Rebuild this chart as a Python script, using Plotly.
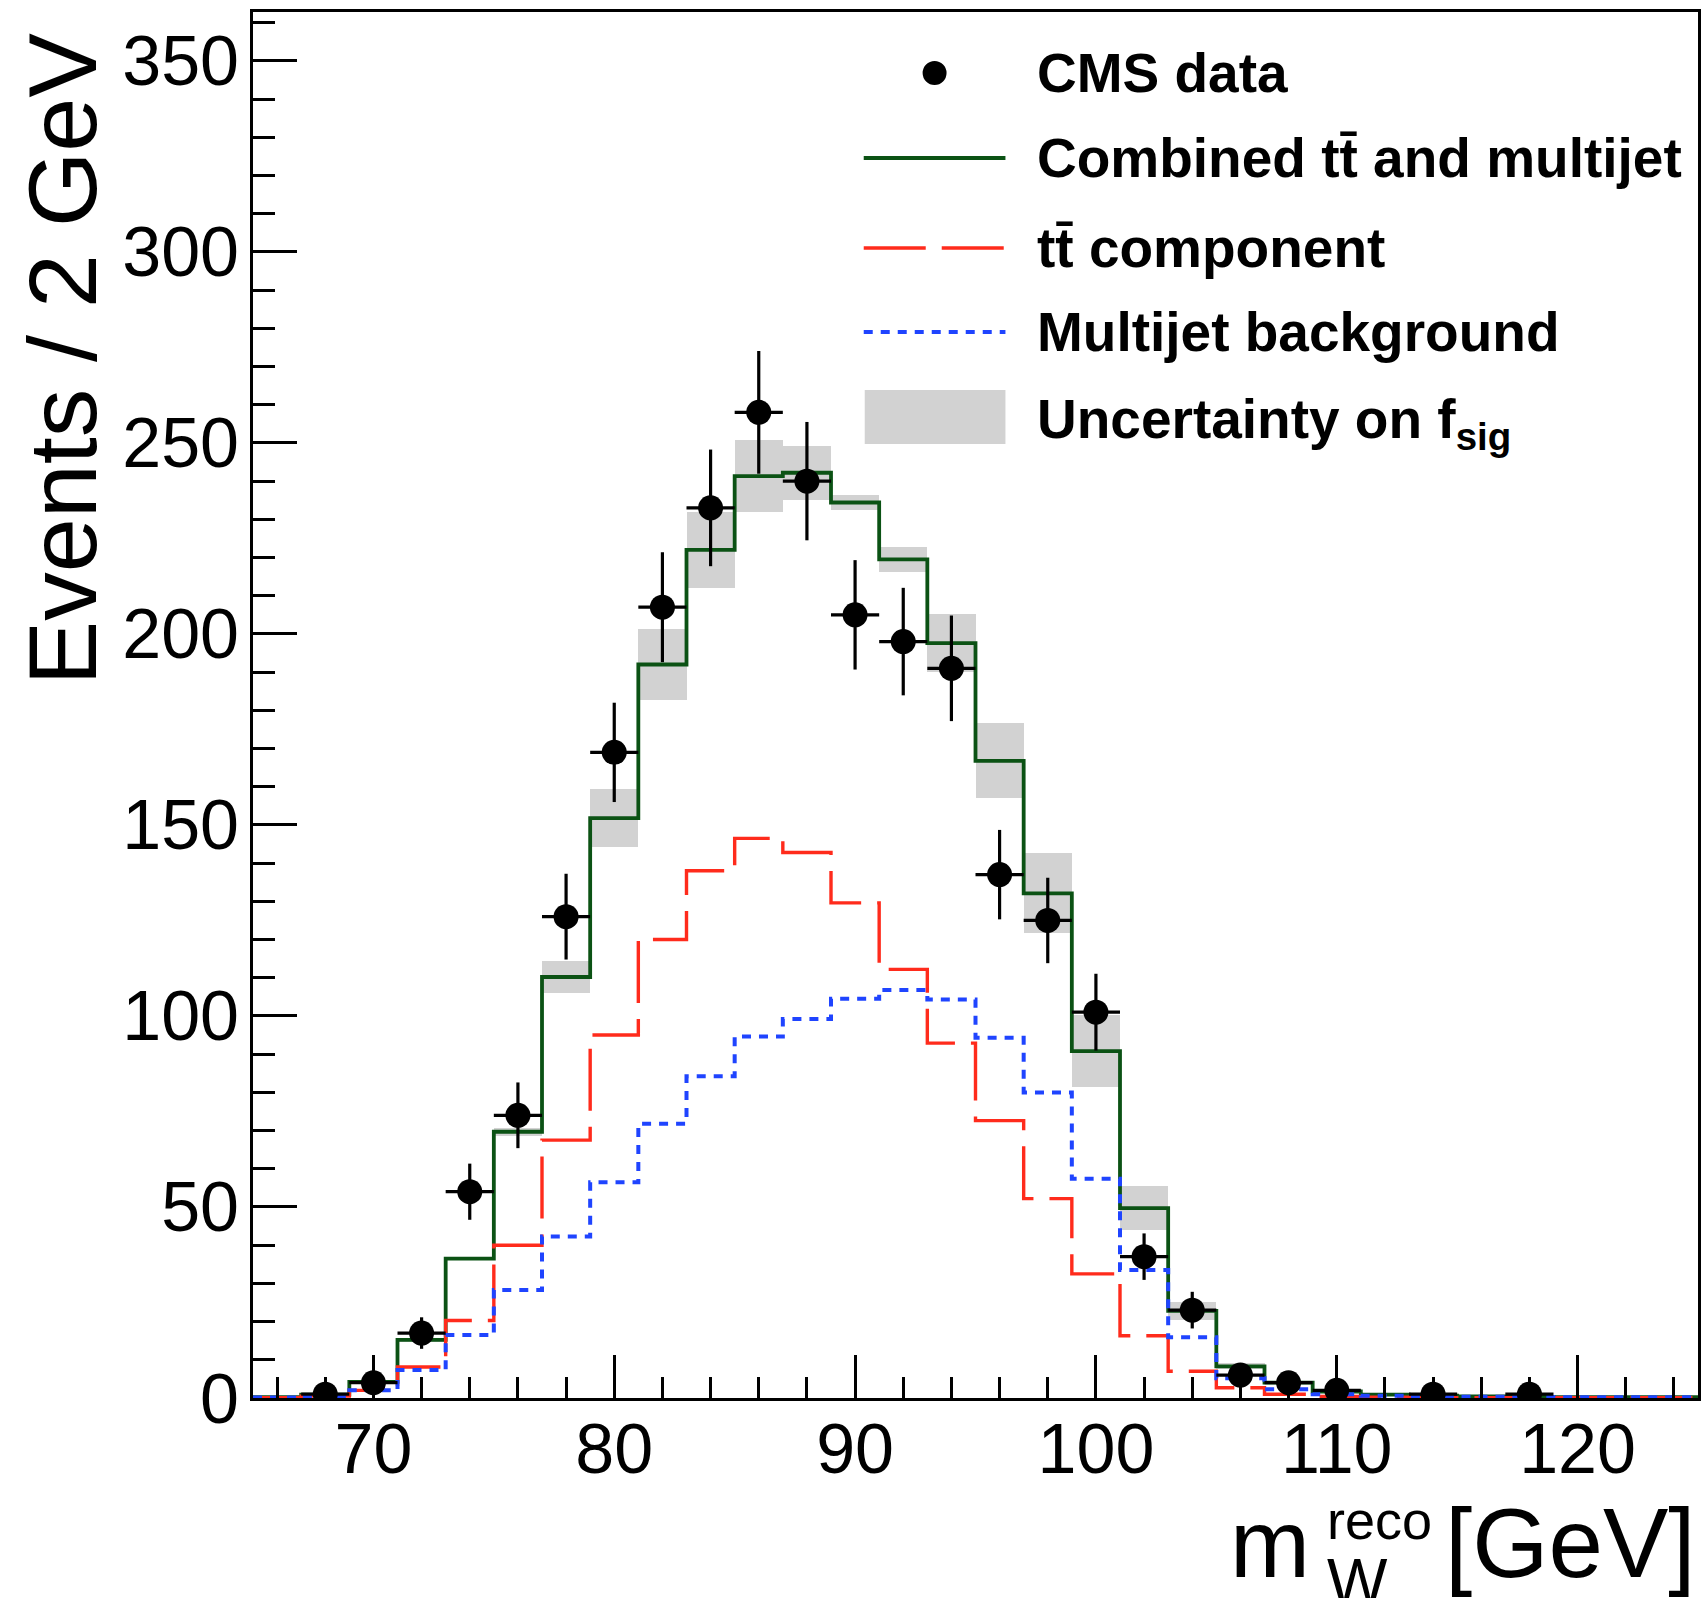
import numpy as np
import plotly.graph_objects as go

# Reconstructed W mass, 2 GeV bins from 65 to 125 GeV (bin centres)
mass_bins = [66, 68, 70, 72, 74, 76, 78, 80, 82, 84, 86, 88, 90, 92, 94,
             96, 98, 100, 102, 104, 106, 108, 110, 112, 114, 116, 118, 120, 122, 124]

# Fitted model: combined ttbar + multijet, and its two components
combined = [0.2, 0.9, 4.2, 15.2, 36.5, 69.7, 110.2, 151.8, 192.0, 222.0, 241.3, 242.2,
            234.4, 219.5, 197.6, 166.8, 132.1, 90.8, 49.7, 22.8, 8.3, 4.0, 1.7, 0.9,
            0.6, 0.4, 0.3, 0.25, 0.2, 0.2]
ttbar = [0.1, 0.5, 2.0, 8.1, 20.3, 40.0, 67.5, 95.0, 120.0, 138.0, 146.5, 142.8,
         129.6, 112.2, 92.9, 72.6, 52.2, 32.5, 16.3, 7.0, 2.7, 1.0, 0.4, 0.2,
         0.1, 0.1, 0.1, 0.1, 0.1, 0.1]
multijet = [0.1, 0.4, 2.0, 7.3, 16.5, 28.3, 42.3, 56.5, 71.8, 84.2, 94.6, 99.2,
            104.5, 106.8, 104.3, 94.3, 80.0, 57.4, 33.5, 15.9, 5.2, 2.3, 1.0, 0.6,
            0.4, 0.3, 0.25, 0.2, 0.2, 0.2]
# Half-width of the band from the uncertainty on the signal fraction
fsig_unc = [0.0, 0.0, 0.3, 0.5, 0.5, 1.0, 4.3, 7.5, 9.4, 10.0, 9.4, 7.1,
            2.0, 3.3, 7.5, 9.8, 10.5, 9.4, 5.7, 2.3, 0.8, 0.3, 0.0, 0.0,
            0.0, 0.0, 0.0, 0.0, 0.0, 0.0]

# CMS data (non-empty bins only)
data_mass = [68, 70, 72, 74, 76, 78, 80, 82, 84, 86, 88, 90, 92, 94, 96, 98,
             100, 102, 104, 106, 108, 110, 114, 118]
data_events = [1, 4, 17, 54, 74, 126, 169, 207, 233, 258, 240, 205, 198, 191, 137, 125,
               101, 37, 23, 6, 4, 2, 1, 1]

x_ticks = [70, 80, 90, 100, 110, 120]
y_ticks = [0, 50, 100, 150, 200, 250, 300, 350]

BIN_W = 2.0
GREEN = "#0b5214"
RED = "#ff2b1c"
BLUE = "#1f44ff"
BAND = "#d2d2d2"
FONT = "Liberation Sans"

# step outlines drawn on the bin edges
edges = [c - BIN_W / 2 for c in mass_bins] + [mass_bins[-1] + BIN_W / 2]


def steps(vals):
    return list(vals) + [vals[-1]]


comb = np.array(combined)
unc = np.array(fsig_unc)
data_err = np.sqrt(np.array(data_events, dtype=float))

fig = go.Figure()

fig.add_trace(go.Bar(x=mass_bins, y=2 * unc, base=comb - unc, width=BIN_W,
                     marker=dict(color=BAND, line=dict(width=0)), showlegend=False))
fig.add_trace(go.Scatter(x=edges, y=steps(combined), mode="lines", line_shape="hv",
                         line=dict(color=GREEN, width=3.8), showlegend=False))
fig.add_trace(go.Scatter(x=edges, y=steps(ttbar), mode="lines", line_shape="hv",
                         line=dict(color=RED, width=3.4, dash="62px,16px"), showlegend=False))
fig.add_trace(go.Scatter(x=edges, y=steps(multijet), mode="lines", line_shape="hv",
                         line=dict(color=BLUE, width=4, dash="9px,8px"), showlegend=False))
fig.add_trace(go.Scatter(x=data_mass, y=data_events, mode="markers",
                         marker=dict(color="black", size=25),
                         error_y=dict(type="data", array=data_err, color="black",
                                      thickness=3.2, width=0),
                         error_x=dict(type="constant", value=BIN_W / 2, color="black",
                                      thickness=3.2, width=0),
                         showlegend=False))

# plot-area geometry in pixels
L, R, T, B = 253, 5, 12, 200
W_FIG, H_FIG = 1706, 1598
PW = W_FIG - L - R
PH = H_FIG - T - B


def fx(px):
    return (px - L) / PW


def fy(py):
    return (T + PH - py) / PH


shapes = []
annotations = []

# legend block
legend_rows = [
    ("<b>CMS data</b>", 73),
    ("<b>Combined t\u0074\u0304 and multijet</b>", 158),
    ("<b>t\u0074\u0304 component</b>", 248),
    ("<b>Multijet background</b>", 332),
    ("<b>Uncertainty on f<sub>sig</sub></b>", 423),
]
for text, yc in legend_rows:
    annotations.append(dict(text=text, x=fx(1037), y=fy(yc), xref="paper", yref="paper",
                            xanchor="left", yanchor="middle", showarrow=False,
                            font=dict(family=FONT, size=55, color="black")))

shapes.append(dict(type="circle", xref="paper", yref="paper",
                   x0=fx(936 - 12), x1=fx(936 + 12), y0=fy(73 + 12), y1=fy(73 - 12),
                   fillcolor="black", line=dict(width=0)))
shapes.append(dict(type="line", xref="paper", yref="paper",
                   x0=fx(865), x1=fx(1007), y0=fy(158), y1=fy(158),
                   line=dict(color=GREEN, width=3.8)))
shapes.append(dict(type="line", xref="paper", yref="paper",
                   x0=fx(865), x1=fx(1007), y0=fy(248), y1=fy(248),
                   line=dict(color=RED, width=3.4, dash="62px,16px")))
shapes.append(dict(type="line", xref="paper", yref="paper",
                   x0=fx(865), x1=fx(1007), y0=fy(332), y1=fy(332),
                   line=dict(color=BLUE, width=4, dash="9px,8px")))
shapes.append(dict(type="rect", xref="paper", yref="paper",
                   x0=fx(866), x1=fx(1007), y0=fy(444), y1=fy(390),
                   fillcolor=BAND, line=dict(width=0)))

# axis titles
annotations.append(dict(text="Events / 2 GeV", x=fx(63), y=fy(359), xref="paper", yref="paper",
                        textangle=-90, xanchor="center", yanchor="middle", showarrow=False,
                        font=dict(family=FONT, size=97, color="black")))
annotations.append(dict(text="[GeV]", x=fx(1700), y=fy(1543), xref="paper", yref="paper",
                        xanchor="right", yanchor="middle", showarrow=False, borderpad=0,
                        font=dict(family=FONT, size=98, color="black")))
annotations.append(dict(text="m", x=fx(1231), y=fy(1543), xref="paper", yref="paper",
                        xanchor="left", yanchor="middle", showarrow=False, borderpad=0,
                        font=dict(family=FONT, size=96, color="black")))
annotations.append(dict(text="reco", x=fx(1328), y=fy(1520), xref="paper", yref="paper",
                        xanchor="left", yanchor="middle", showarrow=False, borderpad=0,
                        font=dict(family=FONT, size=54, color="black")))
annotations.append(dict(text="W", x=fx(1328), y=fy(1582), xref="paper", yref="paper",
                        xanchor="left", yanchor="middle", showarrow=False, borderpad=0,
                        font=dict(family=FONT, size=64, color="black")))

axis_common = dict(showgrid=False, zeroline=False, showline=True, linecolor="black",
                   linewidth=3, mirror=True, ticks="inside", tickcolor="black",
                   tickwidth=3, tickfont=dict(family=FONT, size=70, color="black"))

fig.update_layout(
    width=W_FIG, height=H_FIG,
    margin=dict(l=L, r=R, t=T, b=B, pad=0),
    paper_bgcolor="white", plot_bgcolor="white",
    font=dict(family=FONT, color="black"),
    bargap=0, showlegend=False,
    xaxis=dict(range=[65, 125], tickvals=x_ticks, ticklen=43, ticklabelstandoff=-12,
               minor=dict(dtick=2, tick0=0, ticklen=21, tickwidth=3, tickcolor="black",
                          ticks="inside", showgrid=False),
               **axis_common),
    yaxis=dict(range=[0, 362.8], tickvals=y_ticks, ticklen=44, ticklabelstandoff=-3,
               minor=dict(dtick=10, tick0=0, ticklen=22, tickwidth=3, tickcolor="black",
                          ticks="inside", showgrid=False),
               **axis_common),
    shapes=shapes,
    annotations=annotations,
)

fig.write_html("out.html")
